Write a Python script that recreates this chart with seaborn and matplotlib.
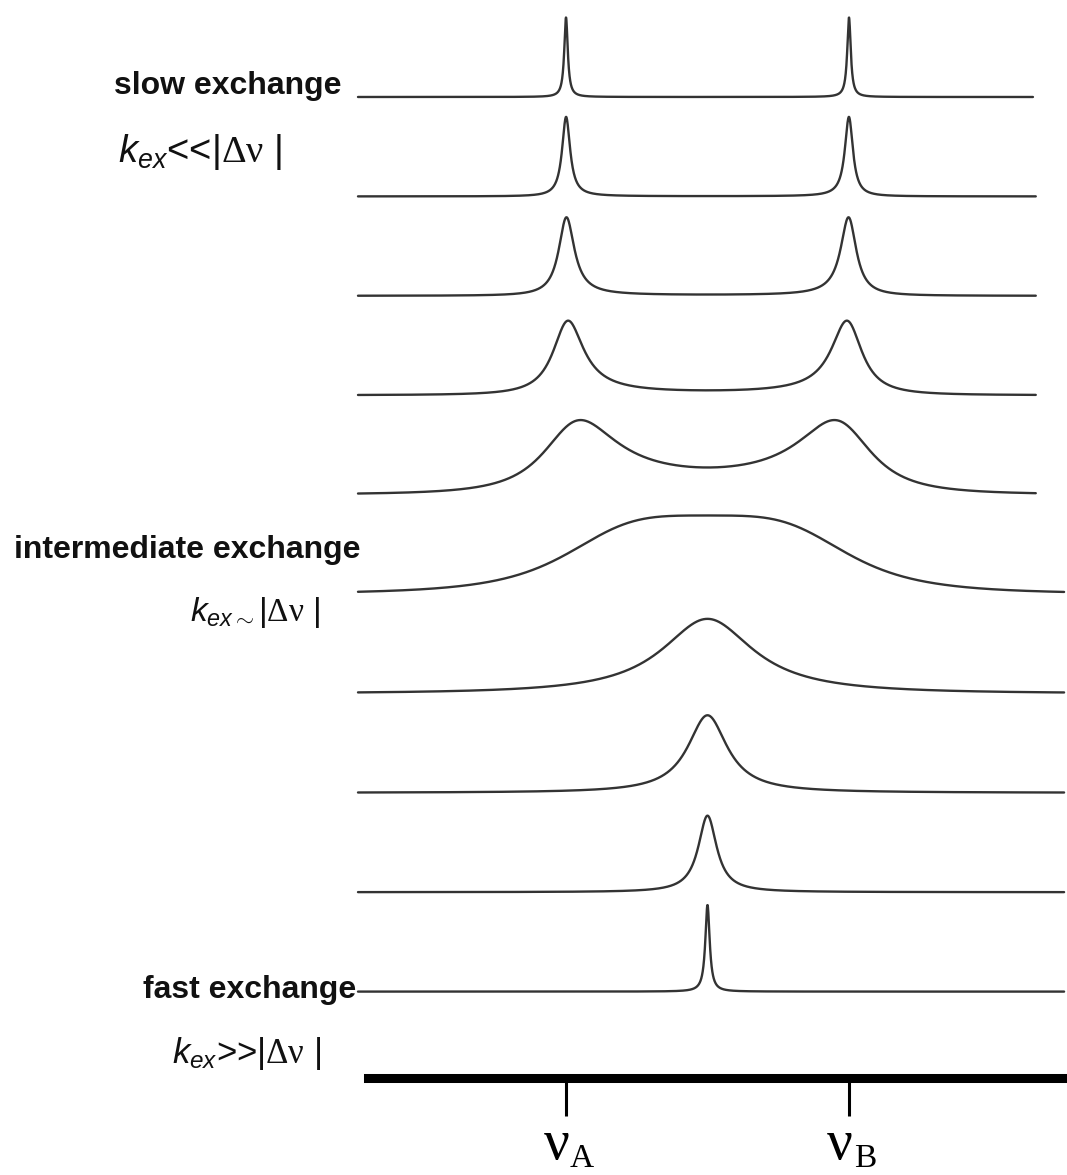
import numpy as np
import pandas as pd
import matplotlib
matplotlib.use("Agg")
import matplotlib.pyplot as plt
import seaborn as sns

# Two-site chemical exchange series, slow (top) to fast (bottom)
site_freqs = [-1.0, 1.0]            # nu_A, nu_B (units of half the shift difference)
populations = [0.5, 0.5]
r2 = 0.012                          # intrinsic relaxation rate
kex_values = [0.006, 0.045, 0.11, 0.24, 0.62, 1.414, 3.0, 6.5, 15.0, 150.0]
peak_heights = [0.80, 0.80, 0.79, 0.75, 0.75, 0.79, 0.75, 0.78, 0.77, 0.87]
window_left = [-2.47] * 10
window_right = [2.30, 2.32, 2.32, 2.32, 2.32, 2.52, 2.52, 2.52, 2.52, 2.52]
tick_labels = ["ν", "ν"]
tick_subs = ["A", "B"]


def exchange_lineshape(w, kex, r2, wa, wb, pa):
    pb = 1.0 - pa
    kab, kba = pb * kex, pa * kex
    a = 1j * (w - wa) + r2 + kab
    d = 1j * (w - wb) + r2 + kba
    b, c = -kba, -kab
    det = a * d - b * c
    return np.real((pa * (d - c) + pb * (a - b)) / det)


rows = []
for i, kex in enumerate(kex_values):
    w = np.linspace(window_left[i], window_right[i], 3000)
    s = exchange_lineshape(w, kex, r2, site_freqs[0], site_freqs[1], populations[0])
    s = s / s.max() * peak_heights[i] - i
    rows.append(pd.DataFrame({"freq": w, "signal": s, "trace": i}))
df = pd.concat(rows, ignore_index=True)

sns.set_theme(style="white")
plt.rcParams["font.family"] = ["Liberation Sans", "DejaVu Sans"]
plt.rcParams["mathtext.fontset"] = "custom"
plt.rcParams["mathtext.it"] = "Liberation Sans:italic"
plt.rcParams["mathtext.rm"] = "Liberation Serif"

W, H = 1067, 1175
fig = plt.figure(figsize=(W / 100, H / 100), dpi=100)
axis_px = 1078
ax = fig.add_axes([0, (H - axis_px) / H, 1, axis_px / H])

sns.lineplot(data=df, x="freq", y="signal", units="trace", estimator=None,
             color="#333333", linewidth=1.7, ax=ax, legend=False, sort=False)

px_per_unit = 141.5
x_center = 707.5
ax.set_xlim((0 - x_center) / px_per_unit, (W - x_center) / px_per_unit)
row_px = 99.4
first_base = 97
ax.set_ylim(-(axis_px - first_base) / row_px, first_base / row_px)

for side in ["top", "right", "left"]:
    ax.spines[side].set_visible(False)
ax.spines["bottom"].set_linewidth(6.5)
ax.spines["bottom"].set_color("black")
ax.spines["bottom"].set_bounds((368 - x_center) / px_per_unit, ax.get_xlim()[1])
ax.set_xticks(site_freqs)
ax.set_xticklabels([])
ax.tick_params(axis="x", bottom=True, length=27, width=2.2, color="black", direction="out")
ax.set_yticks([])
ax.set_xlabel("")
ax.set_ylabel("")
ax.set_facecolor("white")
fig.patch.set_facecolor("white")

# Labels placed in figure pixel space
tr = fig.dpi_scale_trans


def put(px, py, s, **kw):
    fig.text(px / 100, (H - py) / 100, s, transform=tr, **kw)


bold = dict(fontsize=23, fontweight="bold", color="#111111", va="center")
put(341, 86, "slow exchange", ha="right", **bold)
put(14, 550, "intermediate exchange", ha="left", **bold)
put(356, 990, "fast exchange", ha="right", **bold)

rate = dict(fontsize=26, color="#111111", va="center", ha="left")
put(118, 152, r"$k_{ex}$<<|$\mathrm{\Delta\nu}$ |", fontsize=27.5, color="#111111",
    va="center", ha="left")
put(190, 612, r"$k_{ex\sim}$|$\mathrm{\Delta\nu}$ |", fontsize=24, color="#111111",
    va="center", ha="left")
put(172, 1054, r"$k_{ex}$>>|$\mathrm{\Delta\nu}$ |", fontsize=25, color="#111111",
    va="center", ha="left")

for f, lab, sub in zip(site_freqs, tick_labels, tick_subs):
    xp = x_center + f * px_per_unit
    put(xp - 9, 1159, lab, fontsize=41, family="Liberation Serif", ha="center",
        va="baseline", color="black")
    put(xp + 16, 1167, sub, fontsize=24, family="Liberation Serif", ha="center",
        va="baseline", color="black")

fig.savefig("out.png", dpi=100, facecolor="white")
